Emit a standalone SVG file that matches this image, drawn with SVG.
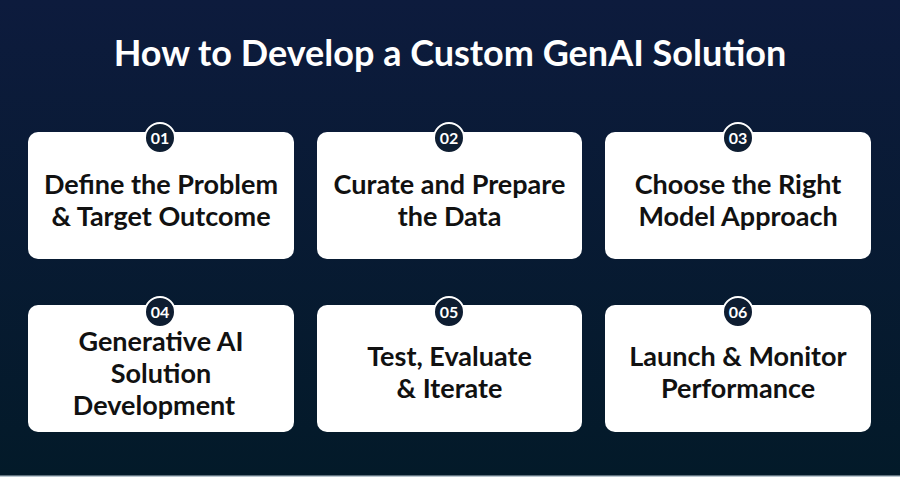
<svg xmlns="http://www.w3.org/2000/svg" width="900" height="477" viewBox="0 0 900 477">
  <defs>
    <linearGradient id="bg" x1="0" y1="0" x2="0" y2="1">
      <stop offset="0" stop-color="#0d1b3d"/>
      <stop offset="1" stop-color="#031a29"/>
    </linearGradient>
    <style>
      .title{font-family:Lato,"Liberation Sans",sans-serif;font-weight:700;font-size:36px;fill:#ffffff;text-anchor:middle}
      .card{fill:#ffffff}
      .lbl{font-family:Lato,"Liberation Sans",sans-serif;font-weight:700;font-size:27px;fill:#111111;text-anchor:middle}
      .badge{fill:#0e1d31;stroke:#ffffff;stroke-width:2}
      .num{font-family:Lato,"Liberation Sans",sans-serif;font-weight:700;font-size:16px;fill:#ffffff;text-anchor:middle}
    </style>
  </defs>
  <rect x="0" y="0" width="900" height="477" fill="url(#bg)"/>
  <rect x="0" y="475.5" width="900" height="1.5" fill="#b9c6cf"/>
  <text class="title" x="450" y="66">How to Develop a Custom GenAI Solution</text>

  <g id="connectors"/>

  <g id="step01">
    <rect class="card" x="28" y="132" width="266" height="127" rx="10"/>
    <circle class="badge" cx="160" cy="138" r="15"/>
    <text class="num" x="160" y="143.5">01</text>
    <text class="lbl" x="161" y="194">Define the Problem</text>
    <text class="lbl" x="161" y="226">&amp; Target Outcome</text>
  </g>
  <g id="step02">
    <rect class="card" x="317" y="132" width="265" height="127" rx="10"/>
    <circle class="badge" cx="449" cy="138" r="15"/>
    <text class="num" x="449" y="143.5">02</text>
    <text class="lbl" x="449.5" y="194">Curate and Prepare</text>
    <text class="lbl" x="449.5" y="226">the Data</text>
  </g>
  <g id="step03">
    <rect class="card" x="605" y="132" width="266" height="127" rx="10"/>
    <circle class="badge" cx="738" cy="138" r="15"/>
    <text class="num" x="738" y="143.5">03</text>
    <text class="lbl" x="738" y="194">Choose the Right</text>
    <text class="lbl" x="738" y="226">Model Approach</text>
  </g>
  <g id="step04">
    <rect class="card" x="28" y="305" width="266" height="127" rx="10"/>
    <circle class="badge" cx="160" cy="312" r="15"/>
    <text class="num" x="160" y="317.5">04</text>
    <text class="lbl" x="161" y="351">Generative AI</text>
    <text class="lbl" x="161" y="383">Solution</text>
    <text class="lbl" x="154" y="415">Development</text>
  </g>
  <g id="step05">
    <rect class="card" x="317" y="305" width="265" height="127" rx="10"/>
    <circle class="badge" cx="449" cy="312" r="15"/>
    <text class="num" x="449" y="317.5">05</text>
    <text class="lbl" x="449.5" y="366">Test, Evaluate</text>
    <text class="lbl" x="449.5" y="398">&amp; Iterate</text>
  </g>
  <g id="step06">
    <rect class="card" x="605" y="305" width="266" height="127" rx="10"/>
    <circle class="badge" cx="738" cy="312" r="15"/>
    <text class="num" x="738" y="317.5">06</text>
    <text class="lbl" x="738" y="366">Launch &amp; Monitor</text>
    <text class="lbl" x="738" y="398">Performance</text>
  </g>
</svg>
